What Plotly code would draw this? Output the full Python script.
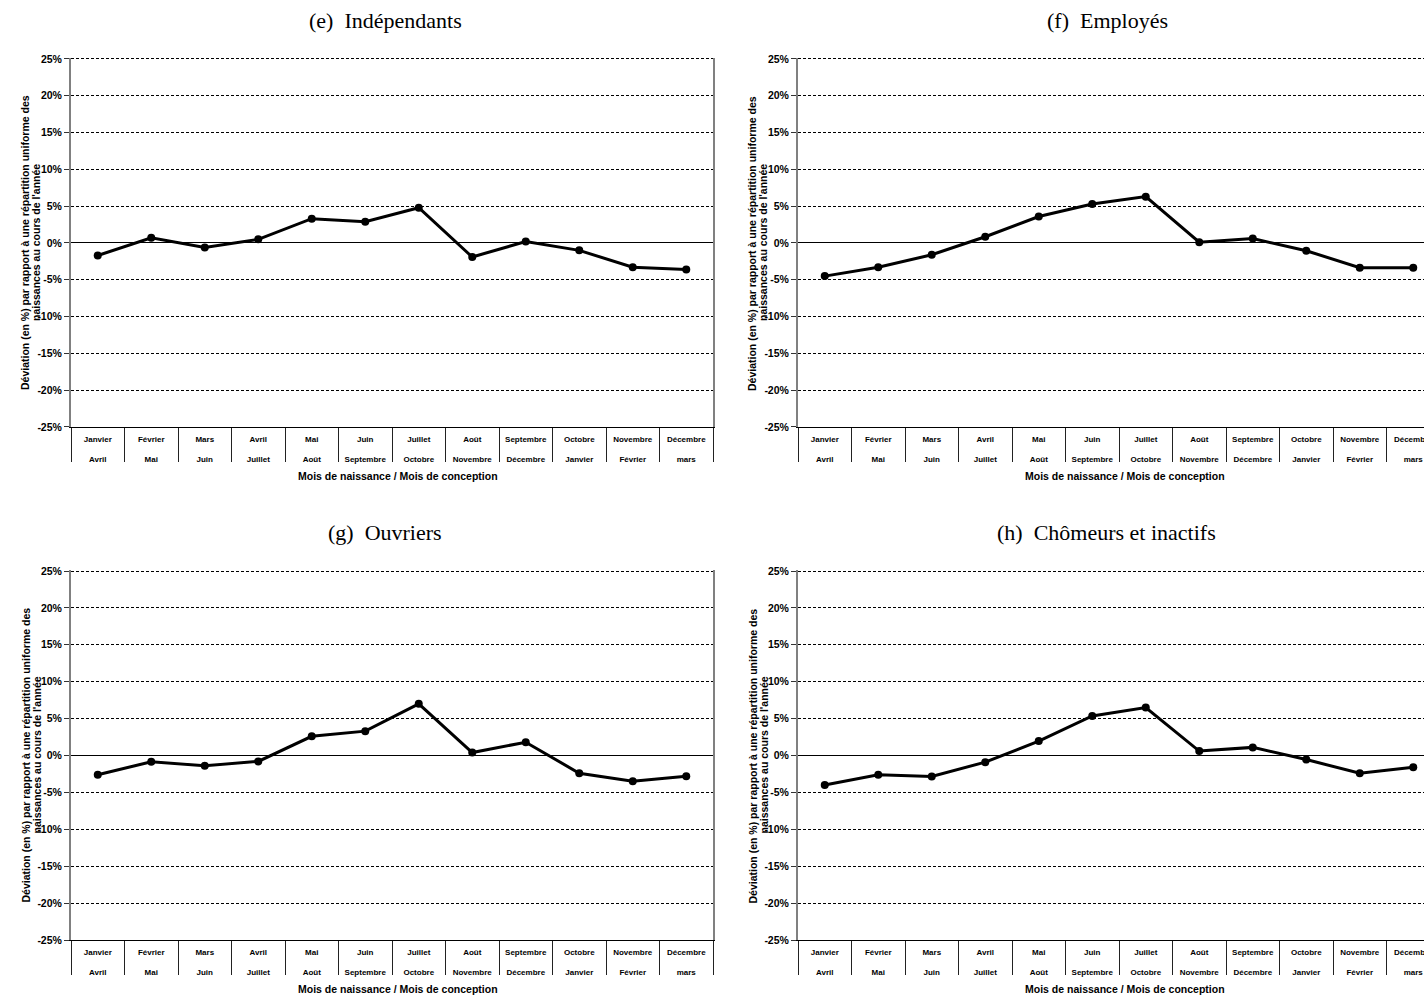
import plotly.graph_objects as go

# ---------------- data ----------------
birth_months = ["Janvier", "Février", "Mars", "Avril", "Mai", "Juin", "Juillet",
                "Août", "Septembre", "Octobre", "Novembre", "Décembre"]
conception_months = ["Avril", "Mai", "Juin", "Juillet", "Août", "Septembre", "Octobre",
                     "Novembre", "Décembre", "Janvier", "Février", "mars"]

independants = [-1.7, 0.7, -0.6, 0.5, 3.3, 2.9, 4.8, -1.9, 0.2, -1.0, -3.3, -3.6]
employes = [-4.5, -3.3, -1.6, 0.85, 3.6, 5.3, 6.3, 0.1, 0.6, -1.05, -3.35, -3.35]
ouvriers = [-2.6, -0.85, -1.4, -0.8, 2.6, 3.3, 7.0, 0.4, 1.8, -2.4, -3.5, -2.8]
chomeurs = [-4.0, -2.6, -2.85, -0.9, 1.95, 5.35, 6.5, 0.6, 1.1, -0.55, -2.4, -1.6]

panel_titles = ["(e)  Indépendants", "(f)  Employés", "(g)  Ouvriers", "(h)  Chômeurs et inactifs"]
y_tick_values = [-25, -20, -15, -10, -5, 0, 5, 10, 15, 20, 25]
y_tick_labels = ["-25%", "-20%", "-15%", "-10%", "-5%", "0%", "5%", "10%", "15%", "20%", "25%"]
y_title_line1 = "Déviation (en %) par rapport à une répartition uniforme des"
y_title_line2 = "naissances au cours de l'année"
x_title = "Mois de naissance / Mois de conception"

# ---------------- layout helpers ----------------
W, H = 1424, 996          # page (window) size
OFF = 0                   # body margin is removed in the page (post_script)
FW, FH = W - OFF, H - OFF  # figure size


def px(x):
    return (x - OFF) / FW


def py(y):
    return 1 - (y - OFF) / FH


categories = [f"{b}<br><br>{c}" for b, c in zip(birth_months, conception_months)]
series = [independants, employes, ouvriers, chomeurs]

# pixel geometry (page coordinates) of the panels: (left, right, top, bottom)
panels = [
    (71, 713, 59, 427),
    (798, 1440, 59, 427),
    (71, 713, 571, 940),
    (798, 1440, 571, 940),
]
title_pos = [(385, 20), (1107, 20), (385, 532), (1106, 532)]

Y_LO, Y_HI = -25, 25
Y_PAD = 0.15  # small headroom so the 25% gridline is drawn

SANS = "Liberation Sans, Arial, sans-serif"
SERIF = "Liberation Serif, Times New Roman, serif"

fig = go.Figure()
layout = dict(
    width=FW, height=FH,
    margin=dict(l=0, r=0, t=0, b=0),
    paper_bgcolor="white", plot_bgcolor="white",
    showlegend=False,
    template="none",
    annotations=[],
)

for i, (vals, (l, r, t, b)) in enumerate(zip(series, panels)):
    n = i + 1
    xa = "x" if n == 1 else f"x{n}"
    ya = "y" if n == 1 else f"y{n}"
    fig.add_trace(go.Scatter(
        x=categories, y=vals, xaxis=xa, yaxis=ya,
        mode="lines+markers",
        line=dict(color="black", width=3),
        marker=dict(color="black", size=8),
        hoverinfo="skip",
    ))
    cat_w = (r - l) / 12.0
    vis_r = min(r, W)
    x_hi = -0.5 + (vis_r - l) / cat_w
    pxper = (b - t) / (Y_HI - Y_LO)
    t_plot = t - Y_PAD * pxper
    layout["xaxis" if n == 1 else f"xaxis{n}"] = dict(
        domain=[px(l), px(vis_r)],
        anchor=ya,
        type="category",
        range=[-0.5, x_hi],
        showgrid=False, zeroline=False,
        showline=True, linecolor="black", linewidth=1,
        ticks="outside", tickson="boundaries", ticklen=34, tickwidth=1, tickcolor="#222222",
        ticklabelstandoff=4,
        tickfont=dict(family=SANS, size=8, color="black", weight="bold"),
        tickangle=0,
        automargin=False,
        fixedrange=True,
    )
    layout["yaxis" if n == 1 else f"yaxis{n}"] = dict(
        domain=[py(b), py(t_plot)],
        anchor=xa,
        range=[Y_LO, Y_HI + Y_PAD],
        tickmode="array", tickvals=y_tick_values, ticktext=y_tick_labels,
        showgrid=True, gridcolor="black", gridwidth=1, griddash="3px,2px",
        zeroline=True, zerolinecolor="black", zerolinewidth=1,
        showline=True, linecolor="#808080", linewidth=2,
        mirror=(r <= W),
        ticks="outside", ticklen=5, tickwidth=1, tickcolor="#333333",
        tickfont=dict(family=SANS, size=10.5, color="black", weight="bold"),
        automargin=False,
        fixedrange=True,
    )
    # panel title
    tx, ty = title_pos[i]
    layout["annotations"].append(dict(
        text=panel_titles[i], x=px(tx), y=py(ty), xref="paper", yref="paper",
        xanchor="center", yanchor="middle", showarrow=False,
        font=dict(family=SERIF, size=22, color="black"),
    ))
    # y-axis title (two lines)
    ymid = (t + b) / 2
    for dx, txt in [(-46, y_title_line1), (-35, y_title_line2)]:
        layout["annotations"].append(dict(
            text=txt, x=px(l + dx), y=py(ymid), xref="paper", yref="paper",
            xanchor="center", yanchor="middle", showarrow=False, textangle=-90,
            font=dict(family=SANS, size=10.5, color="black", weight="bold"),
        ))
    # x-axis title
    layout["annotations"].append(dict(
        text=x_title, x=px(l + 327), y=py(b + 49), xref="paper", yref="paper",
        xanchor="center", yanchor="middle", showarrow=False,
        font=dict(family=SANS, size=10.5, color="black", weight="bold"),
    ))

fig.update_layout(**layout)
fig.write_html(
    "out.html",
    config={"displayModeBar": False, "staticPlot": True},
    post_script="document.body.style.margin='0px';document.body.style.overflow='hidden';",
)
